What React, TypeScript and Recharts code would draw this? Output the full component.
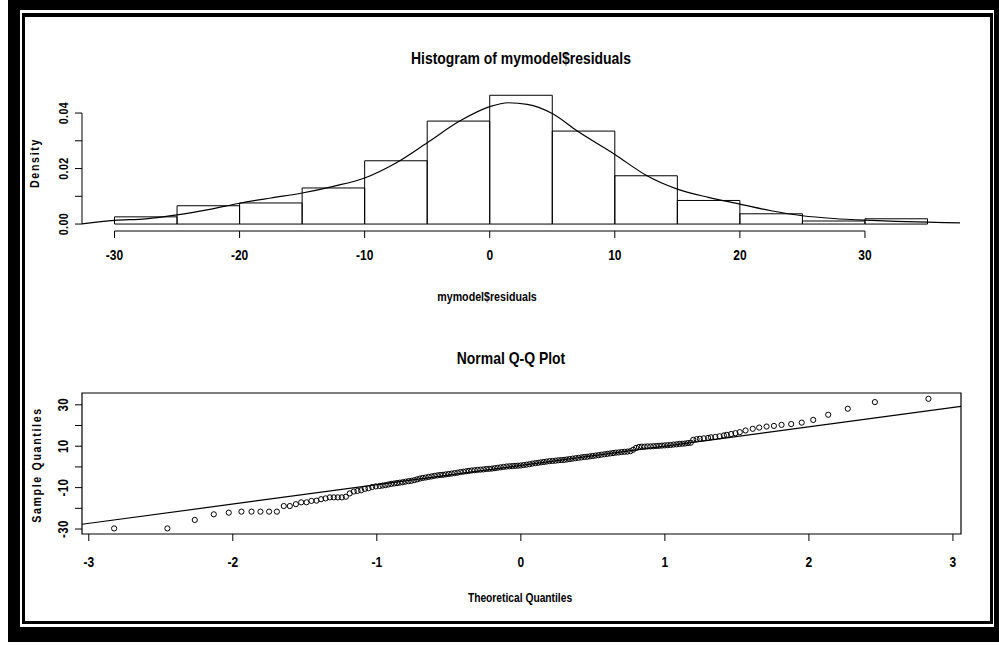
import React from "react";
import { ComposedChart, Line, Scatter, XAxis, YAxis, ReferenceArea, ReferenceLine } from "recharts";

const FONT = '"Liberation Sans", Arial, sans-serif';
const NARROW = 0.82; // the original uses a condensed bold face

// histogram of mymodel$residuals (bins of width 5)
const binStarts = [-30, -25, -20, -15, -10, -5, 0, 5, 10, 15, 20, 25, 30];
const binDensity = [0.0026, 0.0066, 0.0076, 0.013, 0.0228, 0.0371, 0.0464, 0.0335, 0.0174, 0.0085, 0.0037, 0.0011, 0.0019];
const binWidth = 5;

// kernel density curve drawn over the histogram
const curveX = [-32.6, -30, -27.5, -25, -22.5, -20, -17.5, -15, -12.5, -10, -7.5, -5, -2.4, 0, 1.5, 3, 5, 7, 10, 12.5, 15, 17.5, 20, 22.5, 25, 27.5, 30, 32.5, 35, 37.6];
const curveY = [0.0001, 0.0013, 0.0019, 0.0033, 0.0052, 0.0075, 0.0094, 0.0112, 0.0136, 0.0166, 0.022, 0.0293, 0.0371, 0.0423, 0.0437, 0.0431, 0.0398, 0.0335, 0.0251, 0.0176, 0.0126, 0.0096, 0.0072, 0.0048, 0.003, 0.002, 0.0014, 0.001, 0.0007, 0.0004];

const histXTicks = [-30, -20, -10, 0, 10, 20, 30];
const histYTicks = [0, 0.01, 0.02, 0.03, 0.04];
const histYLabelled = [0, 0.02, 0.04];

// normal Q-Q plot: theoretical quantile vs sample quantile
const qqLowX = [-2.824, -2.454, -2.264, -2.132, -2.028, -1.94, -1.87, -1.808, -1.748, -1.694, -1.646, -1.604, -1.562, -1.525, -1.488, -1.454, -1.419, -1.387, -1.356, -1.326, -1.299, -1.271, -1.243, -1.215, -1.188, -1.16, -1.134, -1.109, -1.083, -1.058, -1.032, -1.007];
const qqLowY = [-29.7, -29.7, -25.6, -22.9, -22.1, -21.6, -21.6, -21.6, -21.6, -21.6, -18.9, -18.9, -18.0, -17.1, -17.1, -16.4, -16.3, -15.6, -15.2, -14.7, -14.7, -14.7, -14.7, -14.4, -12.8, -11.9, -11.6, -11.3, -10.6, -10.3, -9.7, -9.4];

const qqMidX = [
  -0.98, -0.96, -0.94, -0.92, -0.9, -0.88, -0.86, -0.84, -0.82, -0.8, -0.78, -0.76, -0.74, -0.72, -0.7, -0.68, -0.66, -0.64, -0.62, -0.6,
  -0.58, -0.56, -0.54, -0.52, -0.5, -0.48, -0.46, -0.44, -0.42, -0.4, -0.38, -0.36, -0.34, -0.32, -0.3, -0.28, -0.26, -0.24, -0.22, -0.2,
  -0.18, -0.16, -0.14, -0.12, -0.1, -0.08, -0.06, -0.04, -0.02, 0, 0.02, 0.04, 0.06, 0.08, 0.1, 0.12, 0.14, 0.16, 0.18, 0.2,
  0.22, 0.24, 0.26, 0.28, 0.3, 0.32, 0.34, 0.36, 0.38, 0.4, 0.42, 0.44, 0.46, 0.48, 0.5, 0.52, 0.54, 0.56, 0.58, 0.6,
  0.62, 0.64, 0.66, 0.68, 0.7, 0.72, 0.74, 0.76, 0.78, 0.8, 0.82, 0.84, 0.86, 0.88, 0.9, 0.92, 0.94, 0.96, 0.98, 1.0,
  1.02, 1.04, 1.06, 1.08, 1.1, 1.12, 1.14, 1.16, 1.18,
];
const qqMidY = [
  -9.2, -9.0, -8.8, -8.5, -8.2, -8.0, -7.8, -7.6, -7.4, -7.1, -6.9, -6.7, -6.4, -6.0, -5.6, -5.3, -5.1, -4.8, -4.6, -4.3,
  -4.1, -3.9, -3.8, -3.6, -3.4, -3.2, -3.0, -2.8, -2.5, -2.3, -2.1, -1.9, -1.7, -1.6, -1.4, -1.3, -1.2, -1.0, -0.9, -0.8,
  -0.6, -0.4, -0.2, 0.0, 0.2, 0.3, 0.4, 0.5, 0.6, 0.7, 0.9, 1.1, 1.3, 1.6, 1.8, 2.0, 2.2, 2.4, 2.6, 2.8,
  2.9, 3.0, 3.2, 3.3, 3.4, 3.6, 3.8, 4.0, 4.2, 4.4, 4.6, 4.8, 4.9, 5.1, 5.3, 5.5, 5.7, 5.9, 6.1, 6.3,
  6.5, 6.7, 6.9, 7.0, 7.2, 7.3, 7.4, 7.6, 8.3, 9.2, 9.6, 9.8, 9.8, 9.9, 9.9, 10.0, 10.1, 10.2, 10.3, 10.4,
  10.5, 10.6, 10.8, 10.9, 11.1, 11.2, 11.3, 11.5, 11.7,
];

const qqHighX = [1.197, 1.22, 1.243, 1.27, 1.3, 1.32, 1.35, 1.38, 1.41, 1.43, 1.46, 1.49, 1.52, 1.56, 1.61, 1.655, 1.706, 1.757, 1.81, 1.877, 1.95, 2.03, 2.134, 2.27, 2.458, 2.83];
const qqHighY = [13.1, 13.4, 13.6, 13.8, 14.0, 14.3, 14.5, 14.8, 15.2, 15.5, 15.9, 16.3, 16.8, 17.6, 18.4, 19.0, 19.5, 19.8, 20.3, 20.7, 21.4, 22.7, 25.2, 28.1, 31.3, 32.9];

// qqline end points
const qqLineX = [-3.047, 3.056];
const qqLineY = [-27.7, 29.2];

const qqXTicks = [-3, -2, -1, 0, 1, 2, 3];
const qqYTicks = [-30, -20, -10, 0, 10, 20, 30];
const qqYLabelled = [-30, -10, 10, 30];

const HX: [number, number] = [-32.6, 37.6];
const HY: [number, number] = [-0.0025, 0.0483];
const QX: [number, number] = [-3.047, 3.056];
const QY: [number, number] = [-32.4, 35.7];

const curveData = curveX.map((x, i) => ({ x, y: curveY[i] }));
const qqPoints = [
  ...qqLowX.map((x, i) => ({ x, y: qqLowY[i] })),
  ...qqMidX.map((x, i) => ({ x, y: qqMidY[i] })),
  ...qqHighX.map((x, i) => ({ x, y: qqHighY[i] })),
];
const qqLineData = qqLineX.map((x, i) => ({ x, y: qqLineY[i] }));

const XTick = (props: any) => {
  const { x, y, payload } = props;
  return (
    <g transform={`translate(${x},${y})`}>
      <text transform={`scale(0.8,1)`} textAnchor="middle" dy="0.71em" fontSize={15} fontWeight={700} fontFamily={FONT} fill="#000">
        {payload.value}
      </text>
    </g>
  );
};

function rotTick(labelled: number[], fmt: (v: number) => string, size: number) {
  return (props: any) => {
    const { x, y, payload } = props;
    if (!labelled.some((v) => Math.abs(v - payload.value) < 1e-9)) return <g />;
    const bx = x - 5;
    return (
      <g transform={`translate(${bx},${y}) rotate(-90)`}>
        <text transform={`scale(${NARROW},1)`} textAnchor="middle" fontSize={size} fontWeight={700} fontFamily={FONT} fill="#000" letterSpacing={0.5}>
          {fmt(payload.value)}
        </text>
      </g>
    );
  };
}

const Circle = (props: any) => <circle cx={props.cx} cy={props.cy} r={2.6} fill="none" stroke="#000" strokeWidth={1} />;

function Label({ x, y, size, text, rotate, spacing }: { x: number; y: number; size: number; text: string; rotate?: boolean; spacing?: number }) {
  return (
    <div
      style={{
        position: "absolute",
        left: x,
        top: y,
        transform: `translate(-50%, -50%)${rotate ? " rotate(-90deg)" : ""} scaleX(${NARROW})`,
        fontFamily: FONT,
        fontWeight: 700,
        fontSize: size,
        letterSpacing: spacing ?? 0,
        whiteSpace: "nowrap",
        lineHeight: 1,
        color: "#000",
      }}
    >
      {text}
    </div>
  );
}

export default function App() {
  return (
    <div style={{ position: "absolute", left: 0, top: 0, width: 999, height: 646, background: "#fff", overflow: "hidden" }}>
      {/* frame */}
      <div style={{ position: "absolute", left: 8, top: 0, width: 991, height: 642, background: "#000" }} />
      <div style={{ position: "absolute", left: 20, top: 10, width: 974, height: 617, background: "#fff" }} />
      <div style={{ position: "absolute", left: 22, top: 13, width: 971, height: 611, boxSizing: "border-box", border: "3px solid #000", borderTopWidth: 4, background: "#fff" }} />

      {/* histogram */}
      <div style={{ position: "absolute", left: 0, top: 0 }}>
        <ComposedChart width={999} height={300} data={curveData} margin={{ top: 90, right: 39, bottom: 29, left: 22 }}>
          <XAxis type="number" dataKey="x" domain={HX} ticks={histXTicks} axisLine={false} tickSize={7} tickMargin={11} tick={<XTick />} tickLine={{ stroke: "#000" }} height={40} allowDataOverflow interval={0} />
          <YAxis type="number" domain={HY} ticks={histYTicks} axisLine={false} tickSize={7} tickLine={{ stroke: "#000" }} tick={rotTick(histYLabelled, (v) => v.toFixed(2), 13)} width={60} allowDataOverflow interval={0} />
          {binStarts.map((b, i) => (
            <ReferenceArea key={b} x1={b} x2={b + binWidth} y1={0} y2={binDensity[i]} fill="none" stroke="#000" strokeWidth={1} ifOverflow="visible" />
          ))}
          <ReferenceLine segment={[{ x: histXTicks[0], y: HY[0] }, { x: histXTicks[histXTicks.length - 1], y: HY[0] }]} stroke="#000" ifOverflow="visible" />
          <ReferenceLine segment={[{ x: HX[0], y: 0 }, { x: HX[0], y: 0.04 }]} stroke="#000" ifOverflow="visible" />
          <Line type="monotone" dataKey="y" stroke="#000" strokeWidth={1.2} dot={false} isAnimationActive={false} />
        </ComposedChart>
      </div>

      {/* normal Q-Q plot */}
      <div style={{ position: "absolute", left: 0, top: 300 }}>
        <ComposedChart width={999} height={346} margin={{ top: 93, right: 38, bottom: 72, left: 22 }}>
          <XAxis type="number" dataKey="x" domain={QX} ticks={qqXTicks} axisLine={false} tickSize={7} tickMargin={15} tick={<XTick />} tickLine={{ stroke: "#000" }} height={40} allowDataOverflow interval={0} />
          <YAxis type="number" dataKey="y" domain={QY} ticks={qqYTicks} axisLine={false} tickSize={7} tickLine={{ stroke: "#000" }} tick={rotTick(qqYLabelled, (v) => String(v), 14)} width={60} allowDataOverflow interval={0} />
          <ReferenceArea x1={QX[0]} x2={QX[1]} y1={QY[0]} y2={QY[1]} fill="none" stroke="#000" strokeWidth={1.2} ifOverflow="visible" />
          <Line data={qqLineData} type="linear" dataKey="y" stroke="#000" strokeWidth={1.2} dot={false} isAnimationActive={false} />
          <Scatter data={qqPoints} dataKey="y" shape={Circle} isAnimationActive={false} />
        </ComposedChart>
      </div>

      <Label x={521} y={58} size={17} text="Histogram of mymodel$residuals" />
      <Label x={487} y={296} size={13} text="mymodel$residuals" />
      <Label x={34} y={163} size={13} text="Density" rotate spacing={2} />
      <Label x={511} y={358} size={17} text="Normal Q-Q Plot" />
      <Label x={520} y={598} size={12.5} text="Theoretical Quantiles" />
      <Label x={36} y={465} size={13} text="Sample Quantiles" rotate spacing={2} />
    </div>
  );
}
